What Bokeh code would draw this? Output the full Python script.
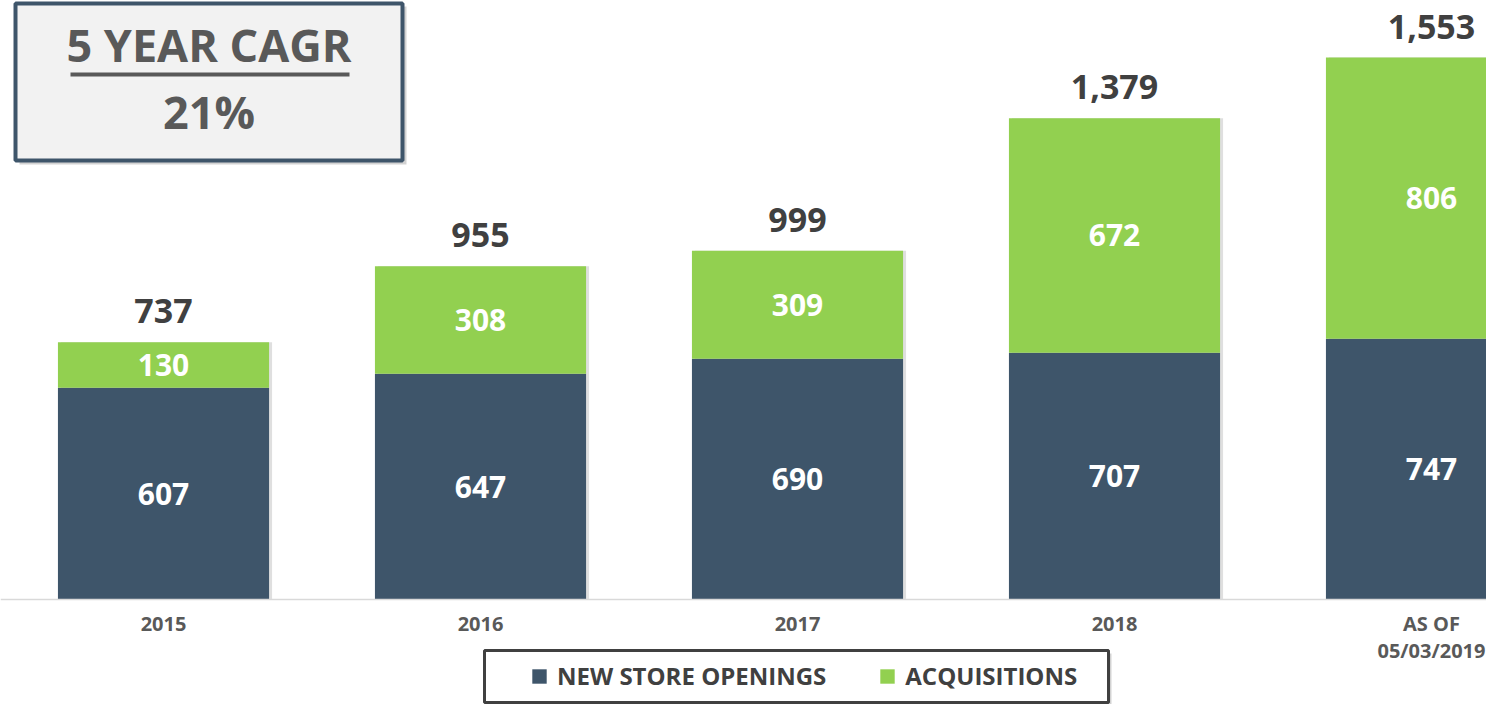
from bokeh.plotting import figure
from bokeh.models import Range1d, Legend, LegendItem, ColumnDataSource, FixedTicker
from bokeh.core.properties import value
from bokeh.embed import file_html
from bokeh.resources import INLINE

# ---- data ----
categories = ["2015", "2016", "2017", "2018", "AS OF\n05/03/2019"]
new_store_openings = [607, 647, 690, 707, 747]
acquisitions = [130, 308, 309, 672, 806]
totals = [737, 955, 999, 1379, 1553]
series_names = ["NEW STORE OPENINGS", "ACQUISITIONS"]
cagr_title = "5 YEAR CAGR"
cagr_value = "21%"

# ---- style / layout ----
NAVY = "#3e556a"
GREEN = "#92d050"
DARK = "#404040"
GREY = "#595959"
FONT = "Open Sans"

W, H = 1486, 704
X_PX = 317.0      # px per category step
Y_PX = 0.349      # px per store
BASE = 599        # baseline, px from canvas top
FIRST = 163       # first category centre, px from canvas left
SHADOW = 3        # bar shadow offset, px

x_start = -FIRST / X_PX
x_end = x_start + W / X_PX
y_end = BASE / Y_PX
y_start = -(H - BASE) / Y_PX


def dx(px):
    return x_start + px / X_PX


def dy(py):
    return y_end - py / Y_PX


xs = list(range(len(categories)))
src = ColumnDataSource(dict(
    x=xs,
    xs_shadow=[x + SHADOW / X_PX for x in xs],
    new=new_store_openings,
    acq=acquisitions,
    total=totals,
    new_mid=[n / 2 for n in new_store_openings],
    acq_mid=[n + a / 2 for n, a in zip(new_store_openings, acquisitions)],
    new_lbl=[f"{n:,}" for n in new_store_openings],
    acq_lbl=[f"{a:,}" for a in acquisitions],
    total_lbl=[f"{t:,}" for t in totals],
))

p = figure(width=W, height=H, output_backend="svg", toolbar_location=None,
           x_range=Range1d(x_start, x_end), y_range=Range1d(y_start, y_end),
           y_axis_location=None, min_border=0)
p.outline_line_color = None
p.grid.visible = False
p.background_fill_color = "white"
p.border_fill_color = "white"

# CAGR box
p.quad(left=[dx(19)], right=[dx(406)], top=[dy(6)], bottom=[dy(164)],
       fill_color="#7f7f7f", fill_alpha=0.35, line_color=None)
p.quad(left=[dx(15)], right=[dx(402)], top=[dy(3)], bottom=[dy(160)],
       fill_color="#f2f2f2", line_color=NAVY, line_width=4)
p.text(x=[dx(208.5)], y=[dy(44)], text=[cagr_title], text_font=value(FONT),
       text_font_style="bold", text_font_size="45px", text_color=GREY,
       text_align="center", text_baseline="middle")
p.segment(x0=[dx(70)], x1=[dx(349)], y0=[dy(74)], y1=[dy(74)],
          line_color=GREY, line_width=4)
p.text(x=[dx(208.5)], y=[dy(111)], text=[cagr_value], text_font=value(FONT),
       text_font_style="bold", text_font_size="45px", text_color=GREY,
       text_align="center", text_baseline="middle")

# bar shadows
p.vbar(x="xs_shadow", top="total", bottom=0, width=0.666, source=src,
       fill_color="#808080", fill_alpha=0.25, line_color=None)

# bars
r_new, r_acq = p.vbar_stack(["new", "acq"], x="x", width=0.666,
                            color=[NAVY, GREEN], line_color=None, source=src)

# labels
for col, ycol in (("new_lbl", "new_mid"), ("acq_lbl", "acq_mid")):
    p.text(x="x", y=ycol, text=col, source=src, text_font=value(FONT),
           text_font_style="bold", text_font_size="30px", text_color="white",
           text_align="center", text_baseline="middle")
p.text(x="x", y="total", text="total_lbl", source=src, text_font=value(FONT),
       text_font_style="bold", text_font_size="34px", text_color=DARK,
       text_align="center", text_baseline="middle", y_offset=-31)

# axis
ax = p.xaxis[0]
ax.fixed_location = 0
ax.ticker = FixedTicker(ticks=xs)
ax.major_label_overrides = {i: c for i, c in zip(xs, categories)}
ax.major_tick_line_color = None
ax.minor_tick_line_color = None
ax.axis_line_color = "#d9d9d9"
ax.axis_line_width = 1.5
ax.major_label_text_font = FONT
ax.major_label_text_font_style = "bold"
ax.major_label_text_font_size = "20px"
ax.major_label_text_color = GREY
ax.major_label_text_line_height = 1.0
ax.major_label_standoff = 4

# legend box
p.quad(left=[dx(487)], right=[dx(1111)], top=[dy(653)], bottom=[dy(705)],
       fill_color="#7f7f7f", fill_alpha=0.35, line_color=None)
p.quad(left=[dx(484)], right=[dx(1108)], top=[dy(650)], bottom=[dy(702)],
       fill_color="white", line_color=DARK, line_width=3)

legend = Legend(items=[LegendItem(label=series_names[0], renderers=[r_new]),
                       LegendItem(label=series_names[1], renderers=[r_acq])],
                orientation="horizontal", location=(530, 12),
                padding=0, margin=0, spacing=52, label_standoff=9,
                glyph_width=18, glyph_height=18,
                label_text_font=FONT, label_text_font_style="bold",
                label_text_font_size="24px", label_text_color=DARK,
                background_fill_alpha=0, border_line_alpha=0)
p.add_layout(legend, "center")

open("out.html", "w").write(file_html(p, INLINE))
